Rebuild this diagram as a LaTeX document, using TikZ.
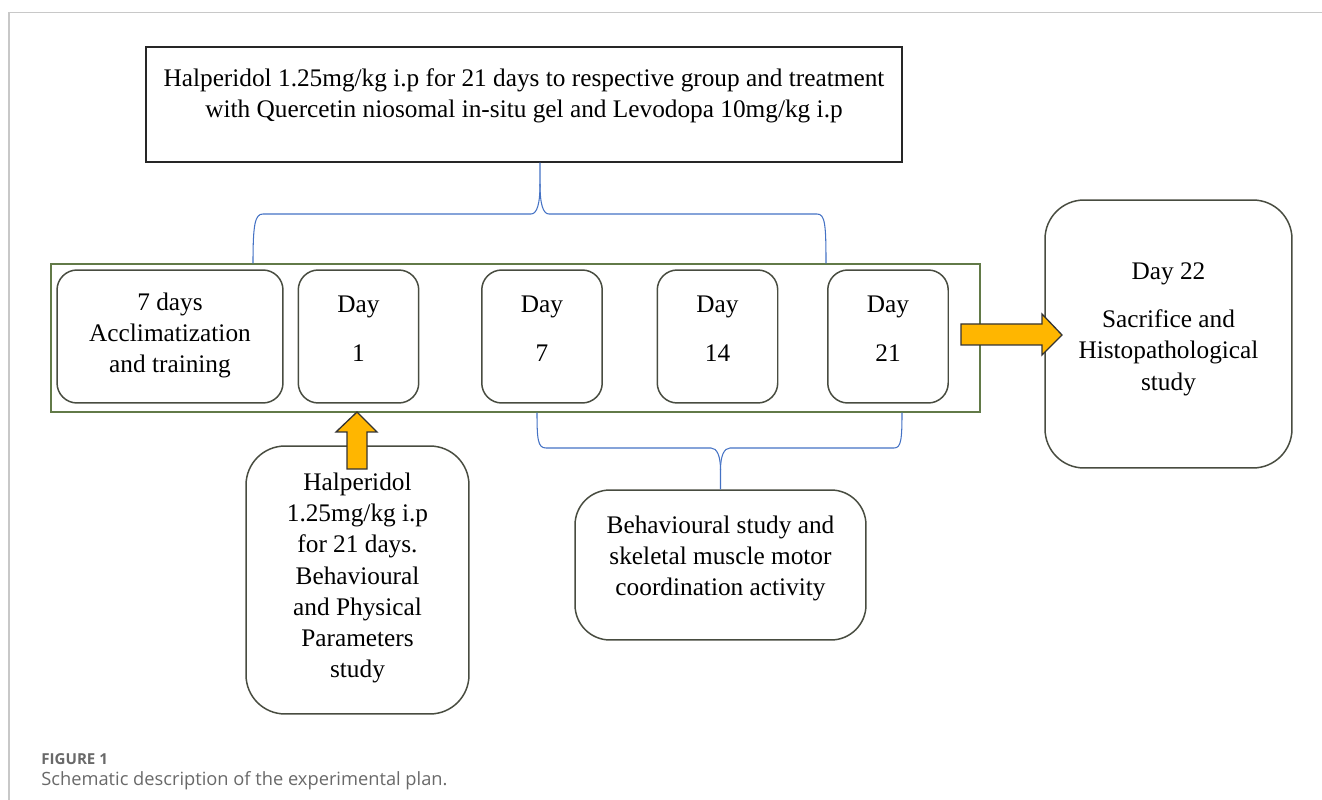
\documentclass[tikz,border=0pt]{standalone}
\usepackage{fontspec}
\setmainfont{Liberation Serif}
\newfontfamily\capfont{Open Sans}

\definecolor{olivegrn}{RGB}{98,122,72}
\definecolor{boxgray}{RGB}{72,76,64}
\definecolor{bracebl}{RGB}{68,114,196}
\definecolor{arrorange}{RGB}{255,182,0}
\definecolor{framegray}{RGB}{200,200,200}
\definecolor{capgray}{RGB}{105,105,105}

\tikzset{
	daybox/.style={draw=boxgray, line width=0.85pt, rounded corners=0.4cm, minimum width=2.41cm, minimum height=2.66cm},
	bigbox/.style={draw=boxgray, line width=0.85pt, rounded corners=0.78cm},
	txt/.style={align=center, inner sep=0pt, font=\fontsize{14.4}{17.7}\selectfont},
	brace/.style={draw=bracebl, line width=0.6pt},
	blockarr/.style={fill=arrorange, draw=black!80, line width=0.75pt, line join=miter},
	captxt/.style={anchor=base west, inner sep=0pt, text=capgray}
}

\begin{document}
\begin{tikzpicture}[x=0.02cm, y=-0.02cm]
	\useasboundingbox (0,0) rectangle (1322,800);
	\draw[framegray, line width=0.03cm] (9,800) -- (9,12.5) -- (1322,12.5);

	\node[draw=black!85, line width=0.85pt, minimum width=15.12cm, minimum height=2.3cm] (hal) at (524,104.5) {};
	\node[txt] (hal-t) at (524,96) {Halperidol 1.25mg/kg i.p for 21 days to respective group and treatment\\with Quercetin niosomal in-situ gel and Levodopa 10mg/kg i.p};

	\node[draw=olivegrn, line width=0.85pt, minimum width=18.58cm, minimum height=2.96cm] (tline) at (515.5,338) {};

	\node[daybox, minimum width=4.52cm] (acc) at (170,336.5) {};
	\node[daybox] (d1) at (358.5,336.5) {};
	\node[daybox] (d7) at (542,336.5) {};
	\node[daybox] (d14) at (717.5,336.5) {};
	\node[daybox] (d21) at (888,336.5) {};

	\node[txt] (acc-t) at (170,335.5) {7 days\\Acclimatization\\and training};
	\node[txt] (d1-t) at (358.5,328.5) {Day\\[10pt]1};
	\node[txt] (d7-t) at (542,328.5) {Day\\[10pt]7};
	\node[txt] (d14-t) at (717.5,328.5) {Day\\[10pt]14};
	\node[txt] (d21-t) at (888,328.5) {Day\\[10pt]21};

	\node[bigbox, minimum width=4.94cm, minimum height=5.36cm] (sac) at (1168.5,334) {};
	\node[txt] (sac-t) at (1168.5,329) {Day 22\\[10pt]Sacrifice and\\Histopathological\\study};

	\node[bigbox, minimum width=4.46cm, minimum height=5.36cm] (halb) at (357.5,580) {};
	\node[txt] (halb-t) at (357.5,578) {Halperidol\\1.25mg/kg i.p\\for 21 days.\\Behavioural\\and Physical\\Parameters\\study};

	\node[bigbox, rounded corners=0.7cm, minimum width=5.82cm, minimum height=3cm] (beh) at (720.5,565) {};
	\node[txt] (beh-t) at (720.5,558.5) {Behavioural study and\\skeletal muscle motor\\coordination activity};

	\draw[brace] (tline.north -| 253,0) .. controls (253,224) and (255,214) .. (263,214) -- (531,214) .. controls (537,214) and (540,204) .. (540,184) -- (hal.south -| 540,0);
	\draw[brace] (540,184) .. controls (540,204) and (543,214) .. (549,214) -- (817,214) .. controls (825,214) and (826,224) .. (tline.north -| 826,0);

	\draw[brace] (tline.south -| 537,0) .. controls (537,440) and (538,448) .. (546,448) -- (711,448) .. controls (717,448) and (720.5,456) .. (720.5,470) -- (beh.north);
	\draw[brace] (720.5,470) .. controls (720.5,456) and (724,448) .. (730,448) -- (894,448) .. controls (901,448) and (902,440) .. (tline.south -| 902,0);

	\filldraw[blockarr] (357,412) -- (377,432) -- (367,432) -- (367,469) -- (347,469) -- (347,432) -- (336,432) -- cycle;
	\filldraw[blockarr] (1062,335) -- (1042,314) -- (1042,324) -- (961,324) -- (961,345) -- (1042,345) -- (1042,355) -- cycle;

	\node[captxt, font=\capfont\bfseries\fontsize{8.6}{10}\selectfont] (fig) at (41,764) {FIGURE 1};
	\node[captxt, font=\capfont\fontsize{10.4}{12}\selectfont] (cap) at (41,785) {Schematic description of the experimental plan.};
\end{tikzpicture}
\end{document}
